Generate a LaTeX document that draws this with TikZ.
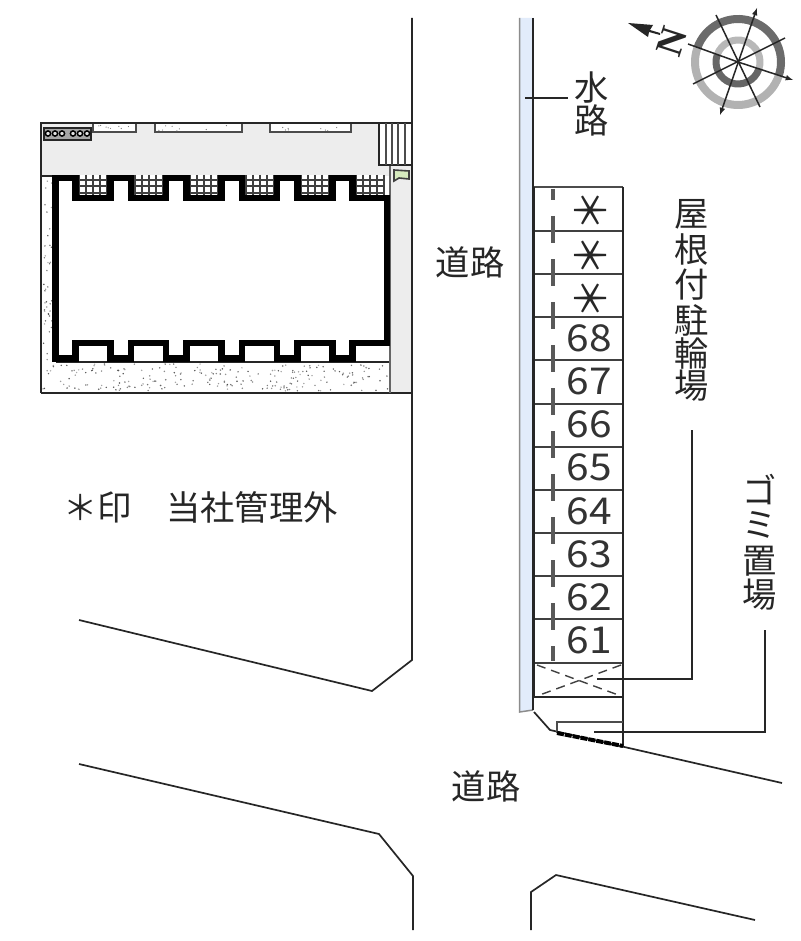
\documentclass[tikz,border=0pt]{standalone}
\usepackage{fontspec}
\setmainfont{Noto Sans CJK JP}
\newfontfamily\nfont{Liberation Serif}
\definecolor{water}{RGB}{226,236,251}
\definecolor{binfill}{RGB}{214,234,190}
\begin{document}
\begin{tikzpicture}[x=1pt,y=-1pt,
  ln/.style={line width=1.7pt,draw=black!85},
  thin/.style={line width=1.3pt,draw=black!85},
  txt/.style={inner sep=0pt,font=\fontsize{34.3}{34}\selectfont,text=black!85},
  star/.style={inner sep=0pt,rotate=90,font=\fontsize{42}{42}\selectfont,text=black!85},
  num/.style={inner sep=0pt,xscale=1.1,font=\fontsize{37}{37}\selectfont,text=black!80},
  wallb/.style={line width=6.6pt,draw=black,line join=miter}]
\useasboundingbox (0,0) rectangle (800,941);
\fill[white] (0,0) rectangle (800,941);
% lot fills
\fill[black!7] (41,123) rectangle (412,176);
\fill[black!7] (390,165) rectangle (412,393);
\fill[white] (379,123) rectangle (412,165);
% dots
\pgfmathsetseed{4711}
\foreach \i in {1,...,230}{
  \pgfmathsetmacro{\dx}{42+rnd*346}\pgfmathsetmacro{\dy}{364+rnd*27}\pgfmathsetmacro{\dk}{30+rnd*40}
  \fill[black!\dk] (\dx,\dy) circle (0.8);}
\foreach \i in {1,...,40}{
  \pgfmathsetmacro{\dx}{43+rnd*9}\pgfmathsetmacro{\dy}{178+rnd*184}\pgfmathsetmacro{\dk}{30+rnd*40}
  \fill[black!\dk] (\dx,\dy) circle (0.8);}
% top tabs
\foreach \a/\b in {93/136,155/242,270/351}{
  \fill[white] (\a,123) rectangle (\b,132);
  \draw[thin,black!70] (\a,123) -- (\a,132) -- (\b,132) -- (\b,123);
  \foreach \i in {1,...,8}{
    \pgfmathsetmacro{\dx}{\a+2+rnd*(\b-\a-4)}\pgfmathsetmacro{\dy}{125+rnd*6}
    \fill[black!55] (\dx,\dy) circle (0.6);}
}
% meter
\draw[thin,fill=black!35] (44,128) rectangle (91,140);
\foreach \c in {48,55,62,73,80,87}{\draw[line width=1.5pt,fill=black!10] (\c,133.5) circle (2.6);}
% lot outline
\draw[ln] (41,393) -- (41,123) -- (412,123);
\draw[ln] (41,393) -- (412,393);
\draw[thin] (41,176) -- (56,176);
\draw[thin] (56,362) -- (390,362);
\draw[thin,black!60] (390,165) -- (390,393);
% stairs
\draw[thin] (379,123) -- (379,165) -- (412,165);
\foreach \c in {386,392,398,405}{\draw[line width=1.4pt,black!70] (\c,123) -- (\c,165);}
% bin
\draw[line width=1.6pt,draw=black!75,fill=binfill] (394,170) -- (409,171) -- (409,179) -- (399,178) -- (394,181) -- cycle;
% balconies
\path[fill=white] (55.5,178) -- (75.5,178) -- (75.5,198) -- (110.5,198) -- (110.5,178) -- (131,178) -- (131,198) -- (166,198) -- (166,178) -- (186.5,178) -- (186.5,198) -- (221.5,198) -- (221.5,178) -- (242,178) -- (242,198) -- (277,198) -- (277,178) -- (297.5,178) -- (297.5,198) -- (332.5,198) -- (332.5,178) -- (352.5,178) -- (352.5,198) -- (387,198) -- (387,358.5) -- (55.5,358.5) -- cycle;
\foreach \a in {78,133.5,189,244.5,300,355}{
  \fill[white] (\a,175) rectangle (\a+30,195);
  \foreach \k in {0,1,2,3,4}{\draw[line width=2pt,black!75] (\a+1+\k*7,175) -- (\a+1+\k*7,195);}
  \foreach \k in {0,1,2}{\draw[line width=2pt,black!75] (\a,180+\k*6.5) -- (\a+30,180+\k*6.5);}
}
% wall
\draw[wallb] (75.5,178) -- (75.5,198) -- (110.5,198) -- (110.5,178) -- (131,178) -- (131,198) -- (166,198) -- (166,178) -- (186.5,178) -- (186.5,198) -- (221.5,198) -- (221.5,178) -- (242,178) -- (242,198) -- (277,198) -- (277,178) -- (297.5,178) -- (297.5,198) -- (332.5,198) -- (332.5,178) -- (352.5,178) -- (352.5,198) -- (387,198) -- (387,343) -- (352.5,343) -- (352.5,358.5) -- (332.5,358.5) -- (332.5,343) -- (297.5,343) -- (297.5,358.5) -- (277,358.5) -- (277,343) -- (242,343) -- (242,358.5) -- (221.5,358.5) -- (221.5,343) -- (186.5,343) -- (186.5,358.5) -- (166,358.5) -- (166,343) -- (131,343) -- (131,358.5) -- (110.5,358.5) -- (110.5,343) -- (75.5,343) -- (75.5,358.5) -- (55.5,358.5) -- (55.5,178) -- cycle;
% road lines
\draw[ln] (412,18) -- (412,660) -- (372,691) -- (79,620);
\draw[ln] (79,764) -- (379,834) -- (413,876) -- (413,930);
\draw[ln] (531,930) -- (531,892) -- (556,875) -- (755,920);
\draw[ln] (534,712) -- (550,730) -- (782,783);
% waterway
\fill[water] (520,18) -- (533,18) -- (533,710) -- (520,712) -- cycle;
\draw[line width=1.5pt,black!45] (519.5,18) -- (519.5,712) -- (533,710);
\draw[ln] (533,18) -- (533,710);
\draw[thin] (525,98) -- (568,98);
% parking
\draw[line width=2.6pt,black!70] (534,187) -- (623,187);
\foreach \y in {230.5,274,317,360,403.5,447,490,533,576,619}{\draw[line width=2pt,black!75] (534,\y) -- (623,\y);}
\draw[line width=2.6pt,black!75] (534,663) -- (623,663);
\draw[line width=2.2pt,black!85] (534,697) -- (623,697);
\draw[ln] (623,187) -- (623,746);
\draw[ln] (534,187) -- (534,697);
\draw[line width=3.6pt,black!65,dash pattern=on 27pt off 16pt,dash phase=16pt] (553,189) -- (553,661);
\draw[line width=1.4pt,black!75,dash pattern=on 9pt off 6pt] (537,665) -- (621,696);
\draw[line width=1.4pt,black!75,dash pattern=on 9pt off 6pt] (621,665) -- (537,696);
% bin enclosure
\draw[line width=2.8pt,black!70] (557,733) -- (557,722) -- (623,722);
\draw[line width=4pt,black,dash pattern=on 7pt off 1pt] (557,733) -- (623,746);
% leaders
\draw[thin] (597,679) -- (692,679) -- (692,430);
\draw[thin] (594,732) -- (765,732) -- (765,630);
% texts
\node[txt] (suiA) at (592,88) {水};
\node[txt] (suiB) at (592,120) {路};
\node[txt] (roadA) at (470,262) {道路};
\node[txt] (roadB) at (486,786) {道路};
\node[txt] (y1) at (692,214) {屋};
\node[txt] (y2) at (692,250) {根};
\node[txt] (y3) at (692,285) {付};
\node[txt] (y4) at (692,320) {駐};
\node[txt] (y5) at (692,353) {輪};
\node[txt] (y6) at (692,386) {場};
\node[txt] (g1) at (760,490) {ゴ};
\node[txt] (g2) at (760,525) {ミ};
\node[txt] (g3) at (760,561) {置};
\node[txt] (g4) at (760,595) {場};
\node[txt,anchor=west] (note) at (63,507) {＊印　当社管理外};
\foreach \n/\y in {a/210,b/255,c/298}{\node[star] (st\n) at (591,\y) {＊};}
\foreach \t/\y in {68/338,67/381,66/424,65/467,64/511,63/554,62/597,61/640}{\node[num] (n\t) at (589,\y) {\t};}
% compass
\begin{scope}[shift={(738,62)}]
\def\ax{18.8}
\draw[line width=8pt,black!58] (\ax:43) arc[start angle=\ax,end angle=\ax-180,radius=43];
\draw[line width=8pt,black!30] (\ax-180:43) arc[start angle=\ax-180,end angle=\ax-360,radius=43];
\draw[line width=7pt,black!28] (\ax:22) arc[start angle=\ax,end angle=\ax-180,radius=22];
\draw[line width=7pt,black!60] (\ax-180:22) arc[start angle=\ax-180,end angle=\ax-360,radius=22];
\end{scope}
\coordinate (cc) at (738,62);
\draw[line width=1.5pt,black!85,-latex] (cc) -- (793,80);
\draw[line width=1.5pt,black!85] (cc) -- (688,44);
\draw[line width=1.5pt,black!85,latex-latex] (720,115) -- (757,8);
\draw[line width=1.5pt,black!85] (716,15) -- (760,107);
\draw[line width=1.5pt,black!85] (693,84) -- (785,38);
\fill[black!85] (628,23) -- (653,25) -- (650,30) -- (660,33) -- (660,35) -- (649,32) -- (648,37) -- cycle;
\node[inner sep=0pt,rotate=72,font=\fontsize{38}{38}\nfont\bfseries\selectfont,text=black!85] (north) at (672,42) {N};
\end{tikzpicture}
\end{document}
